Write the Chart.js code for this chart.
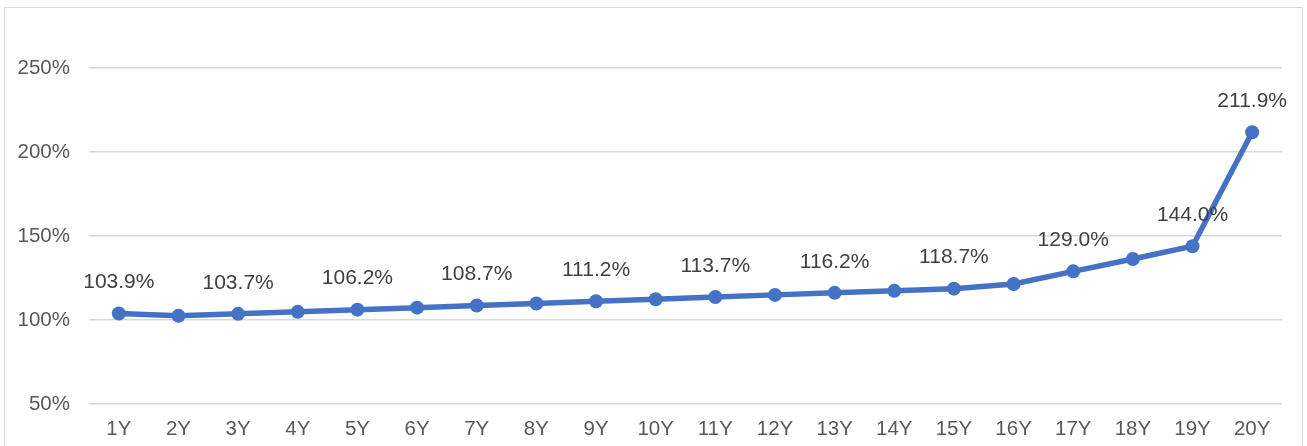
<!DOCTYPE html>
<html>
<head>
<meta charset="utf-8">
<script src="https://cdn.jsdelivr.net/npm/chart.js@4"></script>
<style>
    html, body { margin: 0; padding: 0; background: #ffffff; }
    #wrap { position: relative; width: 1307px; height: 446px; }
</style>
</head>
<body>
<div id="wrap"><canvas id="lineChart" width="1307" height="446"></canvas></div>
<script>
const years = ["1Y", "2Y", "3Y", "4Y", "5Y", "6Y", "7Y", "8Y", "9Y", "10Y",
    "11Y", "12Y", "13Y", "14Y", "15Y", "16Y", "17Y", "18Y", "19Y", "20Y"];
const ratioValues = [103.9, 102.5, 103.7, 104.9, 106.2, 107.4, 108.7, 109.9, 111.2, 112.4,
    113.7, 115.0, 116.2, 117.4, 118.7, 121.5, 129.0, 136.4, 144.0, 211.9];
// only every other point carries a label in the original, plus the last one
const labelledIndexes = [0, 2, 4, 6, 8, 10, 12, 14, 16, 18, 19];
const yTickValues = [50, 100, 150, 200, 250];

const frameBorder = {
    id: "frameBorder",
    beforeDraw(chart) {
        const ctx = chart.ctx;
        ctx.save();
        ctx.strokeStyle = "#d9d9d9";
        ctx.lineWidth = 1;
        ctx.strokeRect(4.5, 7.5, 1298, 445);
        ctx.restore();
    }
};

const pointLabels = {
    id: "pointLabels",
    afterDatasetsDraw(chart) {
        const ctx = chart.ctx;
        const meta = chart.getDatasetMeta(0);
        ctx.save();
        ctx.font = "21px 'Liberation Sans', Arial, sans-serif";
        ctx.fillStyle = "#404040";
        ctx.textAlign = "center";
        ctx.textBaseline = "middle";
        labelledIndexes.forEach((index) => {
            const point = meta.data[index];
            ctx.fillText(`${ratioValues[index].toFixed(1)}%`, point.x, point.y - 31);
        });
        ctx.restore();
    }
};

new Chart(document.getElementById("lineChart").getContext("2d"), {
    type: "line",
    data: {
        labels: years,
        datasets: [{
            data: ratioValues,
            borderColor: "#4472c4",
            backgroundColor: "#4472c4",
            borderWidth: 5.5,
            pointRadius: 7,
            pointBorderWidth: 0,
            tension: 0
        }]
    },
    options: {
        responsive: false,
        animation: false,
        layout: {
            padding: { left: 0, top: 10, right: 25, bottom: 0 }
        },
        plugins: {
            legend: { display: false },
            tooltip: { enabled: false }
        },
        scales: {
            x: {
                offset: true,
                grid: { display: false, drawTicks: false },
                border: { display: false },
                ticks: {
                    color: "#595959",
                    padding: 13,
                    font: { family: "'Liberation Sans', Arial, sans-serif", size: 20.5 },
                    maxRotation: 0,
                    autoSkip: false
                },
                afterFit(scale) {
                    scale.height = 42;
                }
            },
            y: {
                min: 50,
                max: 272,
                grid: { color: "#d9d9d9", lineWidth: 1.5, drawTicks: false },
                border: { display: false },
                afterBuildTicks(scale) {
                    scale.ticks = yTickValues.map((value) => ({ value }));
                },
                ticks: {
                    color: "#595959",
                    padding: 19,
                    font: { family: "'Liberation Sans', Arial, sans-serif", size: 20.5 },
                    callback(value) {
                        return `${value}%`;
                    }
                },
                afterFit(scale) {
                    scale.width = 89;
                }
            }
        }
    },
    plugins: [frameBorder, pointLabels]
});
</script>
</body>
</html>
